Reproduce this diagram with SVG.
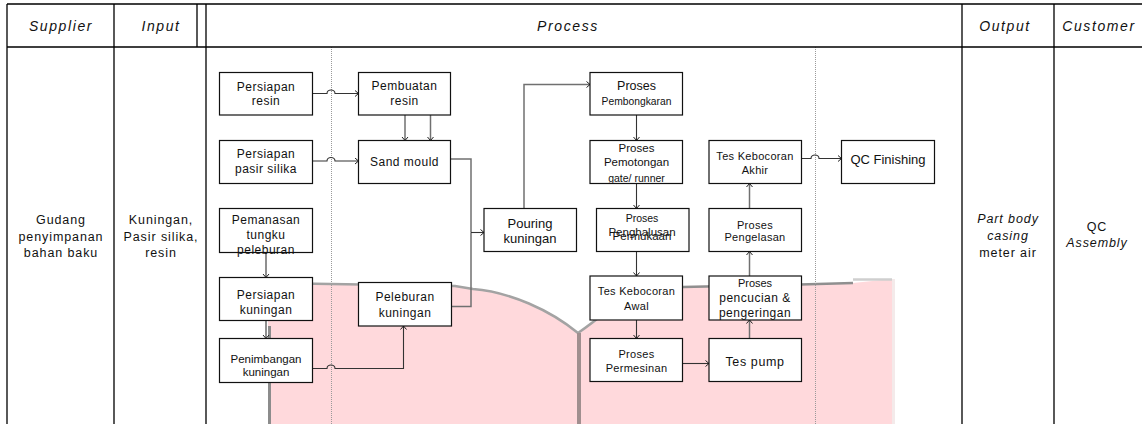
<svg xmlns="http://www.w3.org/2000/svg" width="1142" height="424" viewBox="0 0 1142 424">
<style>
text{font-family:"Liberation Sans",Arial,sans-serif;fill:#111;text-anchor:middle}
.h{font-size:14px;font-style:italic;letter-spacing:1.6px}
.b{font-size:12.5px;letter-spacing:0.9px}
.i{font-style:italic}
.t{font-size:12px;letter-spacing:0.5px}
.s{font-size:11px;letter-spacing:0.3px}
.box{fill:#fff;stroke:#111;stroke-width:1.2}
.grid{stroke:#000;stroke-width:1.3;fill:none}
.dot{stroke:#9a9a9a;stroke-width:1;stroke-dasharray:1 1;fill:none}
.c{fill:none;stroke:#333;stroke-width:1.1;marker-end:url(#arr)}
.g{fill:none;stroke:#707070;stroke-width:1.5}
.ga{marker-end:url(#arr)}
</style>
<defs>
<marker id="arr" markerUnits="userSpaceOnUse" markerWidth="8" markerHeight="8" refX="4" refY="3.5" orient="auto">
<path d="M0.5,0.5 L4,3.5 L0.5,6.5" fill="none" stroke="#222" stroke-width="1"/>
</marker>
</defs>
<rect width="1142" height="424" fill="#fff"/>
<g id="overlay">
<path d="M268,283 L455,286 L473,289 C510,292 550,310 578,333 C588,326 596,320 603,314 L603,287 L800,284.5 L853,283 L892,279 L892,424 L268,424 Z" fill="#ffd9dc"/>
<path d="M268,283 L455,286 L473,289 C510,292 550,310 578,333 C588,326 596,320 603,314" fill="none" stroke="#a3a3a3" stroke-width="2.5"/>
<path d="M683,287 L800,284.5 L853,283" fill="none" stroke="#8f8f8f" stroke-width="2.5"/>
<path d="M853,279.5 L892,279.5" fill="none" stroke="#cfcfcf" stroke-width="2.5"/>
<rect x="892" y="279" width="3" height="145" fill="#f4eaea"/>
<rect x="268" y="326" width="3" height="98" fill="#8c8c8c"/>
<rect x="577" y="333" width="4" height="91" fill="#a08f8f"/>
</g>
<g id="table">
<path class="dot" d="M331.5,47 V424 M815.5,47 V424"/>
<path class="grid" d="M7,4 H1142 M7,47 H1142 M7,4 V424 M114,4 V424 M197,4 V47 M206,4 V424 M962,4 V424 M1054,4 V424"/>
<text class="h" x="61" y="31">Supplier</text>
<text class="h" x="161" y="31">Input</text>
<text class="h" x="568" y="31">Process</text>
<text class="h" x="1005" y="31">Output</text>
<text class="h" x="1099" y="31">Customer</text>
<text class="b" x="61" y="224">Gudang</text>
<text class="b" x="61" y="241">penyimpanan</text>
<text class="b" x="61" y="257">bahan baku</text>
<text class="b" x="161" y="224">Kuningan,</text>
<text class="b" x="161" y="241">Pasir silika,</text>
<text class="b" x="161" y="257">resin</text>
<text class="b i" x="1008" y="223">Part body</text>
<text class="b i" x="1008" y="240">casing</text>
<text class="b" x="1008" y="257">meter air</text>
<text class="b" x="1097" y="231">QC</text>
<text class="b i" x="1097" y="247">Assembly</text>
</g>
<g id="connectors">
<path class="c" d="M312.5,93.5 H327 a4,3.5 0 0 1 8,0 H358.5"/>
<path class="c" d="M312.5,161 H327 a4,3.5 0 0 1 8,0 H358.5"/>
<path class="g ga" d="M405,115 V140.5"/>
<path class="g ga" d="M430.5,115 V140.5"/>
<path class="c" d="M266,252.5 V277.5"/>
<path class="c" d="M266,320.5 V338.5"/>
<path class="c" d="M312.5,368.5 H327 a4,3.5 0 0 1 8,0 H403.5 V326"/>
<path class="g" d="M450.5,159 H471 V232.5"/>
<path class="g" d="M451.5,306.5 H471 V232.5"/>
<path class="c" d="M471,232.5 H484"/>
<path class="g ga" d="M524,208.5 V84.5 H590"/>
<path class="c" d="M636.5,115 V140.5"/>
<path class="c" d="M636.5,183.5 V208.5"/>
<path class="c" d="M636.5,251.5 V276"/>
<path class="c" d="M636.5,320 V338.5"/>
<path class="c" d="M682.5,363.5 H709"/>
<path class="g ga" d="M749.5,338.5 V320"/>
<path class="g ga" d="M749.5,276 V251.5"/>
<path class="g ga" d="M749.5,208.5 V183.5"/>
<path class="c" d="M801.5,158.5 H811 a4,3.5 0 0 1 8,0 H841.5"/>
</g>
<g id="n1"><rect class="box" x="219.5" y="72.5" width="93" height="42.5"/><text class="t" x="266" y="90.5">Persiapan</text><text class="t" x="266" y="105">resin</text></g>
<g id="n2"><rect class="box" x="358.5" y="72.5" width="92" height="42.5"/><text class="t" x="404.5" y="90">Pembuatan</text><text class="t" x="404.5" y="105">resin</text></g>
<g id="n3"><rect class="box" x="219.5" y="140.5" width="93" height="43"/><text class="t" x="266" y="158">Persiapan</text><text class="t" x="266" y="173">pasir silika</text></g>
<g id="n4"><rect class="box" x="358.5" y="140.5" width="92" height="43"/><text class="t" x="404.5" y="165.5">Sand mould</text></g>
<g id="n5"><rect class="box" x="219.5" y="208.5" width="93" height="44"/><text class="t" x="266" y="223.5">Pemanasan</text><text class="t" x="266" y="238.5">tungku</text><text class="t" x="266" y="253.5">peleburan</text></g>
<g id="n6"><rect class="box" x="219.5" y="277.5" width="93" height="43"/><text class="t" x="266" y="299">Persiapan</text><text class="t" x="266" y="314">kuningan</text></g>
<g id="n7"><rect class="box" x="219.5" y="338.5" width="93" height="44"/><text style="font-size:11.5px" x="266" y="363">Penimbangan</text><text style="font-size:11.5px" x="266" y="375.5">kuningan</text></g>
<g id="n8"><rect class="box" x="358.5" y="282.5" width="93" height="43.5"/><text class="t" x="405" y="300.5">Peleburan</text><text class="t" x="405" y="316.5">kuningan</text></g>
<g id="n9"><rect class="box" x="484" y="208.5" width="92.5" height="43"/><text style="font-size:13px" x="530" y="228">Pouring</text><text style="font-size:13px" x="530" y="243">kuningan</text></g>
<g id="n10"><rect class="box" x="590" y="72.5" width="92.5" height="42.5"/><text style="font-size:12.5px" x="636.5" y="90">Proses</text><text style="font-size:10.3px" x="636.5" y="105">Pembongkaran</text></g>
<g id="n11"><rect class="box" x="590" y="140.5" width="92.5" height="43"/><text style="font-size:11.5px" x="636.5" y="152">Proses</text><text style="font-size:11.5px" x="636.5" y="165.5">Pemotongan</text><text style="font-size:10.5px" x="636.5" y="181.5">gate/ runner</text></g>
<g id="n12"><rect class="box" x="596.5" y="208.5" width="92.5" height="43"/><text style="font-size:10.5px" x="642" y="221.5">Proses</text><text style="font-size:11.5px" x="642" y="236">Penghalusan</text><text style="font-size:11.5px" x="642" y="240">Permukaan</text></g>
<g id="n13"><rect class="box" x="590" y="276" width="92.5" height="44"/><text class="s" x="636.5" y="295">Tes Kebocoran</text><text class="s" x="636.5" y="310">Awal</text></g>
<g id="n14"><rect class="box" x="590" y="338.5" width="92.5" height="43"/><text class="s" x="636.5" y="358">Proses</text><text class="s" x="636.5" y="371.5">Permesinan</text></g>
<g id="n15"><rect class="box" x="709" y="338.5" width="92.5" height="43"/><text style="font-size:12.5px;letter-spacing:0.6px" x="755" y="366">Tes pump</text></g>
<g id="n16"><rect class="box" x="709" y="276" width="92.5" height="44"/><text style="font-size:11px" x="755" y="286.5">Proses</text><text class="t" x="755" y="302">pencucian &amp;</text><text class="t" x="755" y="316.5">pengeringan</text></g>
<g id="n17"><rect class="box" x="709" y="208.5" width="92.5" height="43"/><text class="s" x="755" y="228.5">Proses</text><text class="s" x="755" y="241">Pengelasan</text></g>
<g id="n18"><rect class="box" x="709" y="140.5" width="92.5" height="43"/><text class="s" x="755" y="159.5">Tes Kebocoran</text><text class="s" x="755" y="174">Akhir</text></g>
<g id="n19"><rect class="box" x="841.5" y="140.5" width="93" height="43"/><text style="font-size:13px" x="888" y="164">QC Finishing</text></g>
</svg>
